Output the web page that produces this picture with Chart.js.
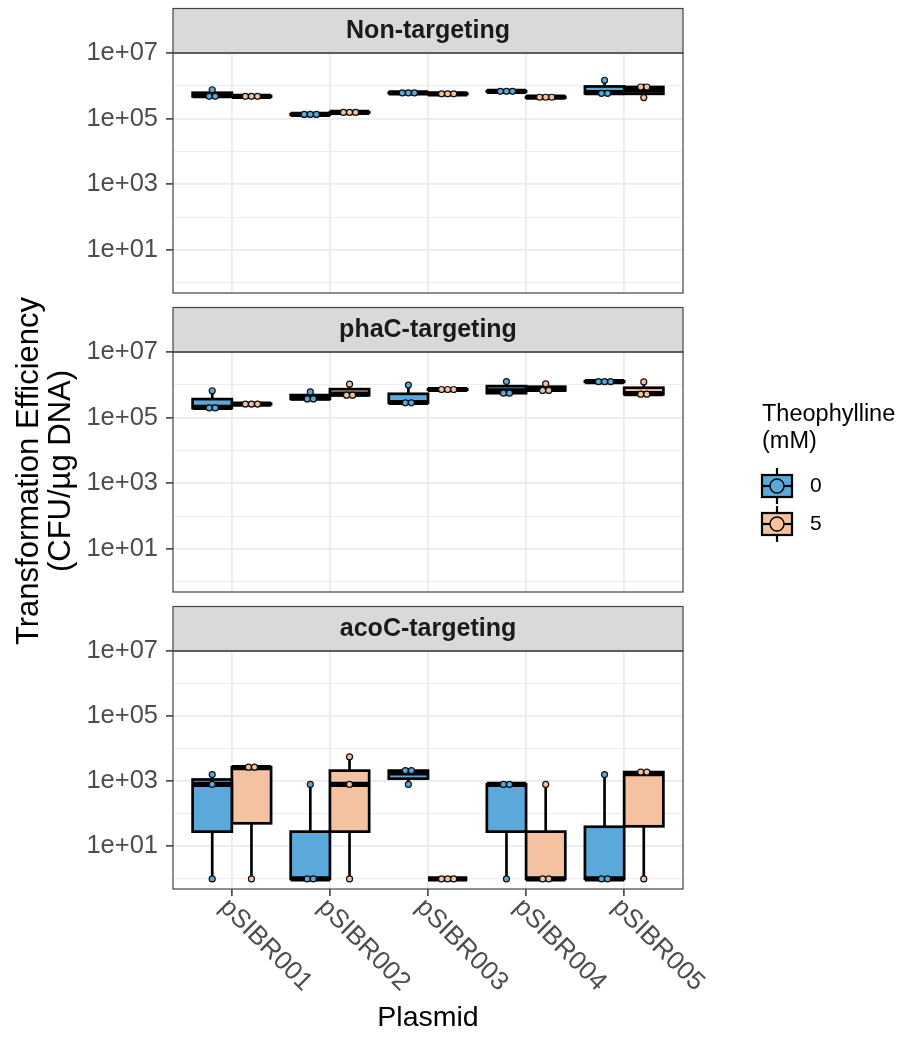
<!DOCTYPE html>
<html>
<head>
<meta charset="utf-8">
<script src="https://cdn.jsdelivr.net/npm/chart.js@4.4.1/dist/chart.umd.min.js"></script>
<style>
  html, body { margin: 0; padding: 0; background: #fff; }
  #wrap { position: relative; width: 901px; height: 1041px; }
  #wrap canvas { position: absolute; left: 0; top: 0; }
</style>
</head>
<body>
<div id="wrap">
  <canvas id="panel1" width="901" height="1041"></canvas>
  <canvas id="panel2" width="901" height="1041"></canvas>
  <canvas id="panel3" width="901" height="1041"></canvas>
</div>
<script>
const plasmids = ["pSIBR001", "pSIBR002", "pSIBR003", "pSIBR004", "pSIBR005"];
const doses = ["0", "5"];
const panelTitles = ["Non-targeting", "phaC-targeting", "acoC-targeting"];
const yTickValues = [1e1, 1e3, 1e5, 1e7];
const yTickLabels = ["1e+01", "1e+03", "1e+05", "1e+07"];
const yMinorValues = [1e0, 1e2, 1e4, 1e6];

// three replicates per plasmid, CFU/ug DNA
const nonTargeting0 = [[4.6e5, 5.0e5, 7.6e5], [1.3e5, 1.35e5, 1.4e5], [5.9e5, 6.1e5, 6.3e5], [6.6e5, 6.8e5, 7.0e5], [5.6e5, 6.2e5, 1.48e6]];
const nonTargeting5 = [[4.6e5, 4.8e5, 5.0e5], [1.5e5, 1.55e5, 1.6e5], [5.5e5, 5.7e5, 5.9e5], [4.3e5, 4.5e5, 4.7e5], [4.4e5, 7.4e5, 1.15e6]];
const phaC0 = [[1.9e5, 2.05e5, 6.6e5], [3.55e5, 3.9e5, 6.1e5], [2.75e5, 2.9e5, 9.8e5], [4.7e5, 6.6e5, 1.26e6], [1.2e6, 1.26e6, 1.3e6]];
const phaC5 = [[2.5e5, 2.6e5, 2.7e5], [4.5e5, 5.2e5, 1.05e6], [7.0e5, 7.2e5, 7.4e5], [6.3e5, 7.2e5, 1.07e6], [5.0e5, 5.4e5, 1.23e6]];
const acoC0 = [[1, 800, 1600], [1, 1, 800], [800, 1800, 2500], [1, 800, 800], [1, 1, 1600]];
const acoC5 = [[1, 2600, 2800], [1, 800, 5600], [1, 1, 1], [1, 1, 800], [1, 1700, 2150]];

const FONT = '"Liberation Sans", Arial, Helvetica, sans-serif';
const fills = ["#5BA8DB", "#F4C2A1"];
const dodge = [-0.2, 0.2];
const DOT_STEP = 0.062;
Chart.defaults.font.family = FONT;

const panels = [
    { id: "panel1", title: panelTitles[0], series: [nonTargeting0, nonTargeting5], top: 53, bottom: 293 },
    { id: "panel2", title: panelTitles[1], series: [phaC0, phaC5], top: 352, bottom: 592, legend: true, yTitle: true },
    { id: "panel3", title: panelTitles[2], series: [acoC0, acoC5], top: 651, bottom: 889, xLabels: true },
];

const lg = (v) => Math.log10(v);

// boxplot stats on log10 values (like scale_y_log10)
let boxStats = (vals) => {
    const s = vals.map(lg).sort((a, b) => a - b);
    const q = (p) => {
        const h = (s.length - 1) * p;
        const lo = Math.floor(h);
        const hi = Math.min(lo + 1, s.length - 1);
        return s[lo] + (h - lo) * (s[hi] - s[lo]);
    };
    const q1 = q(0.25), q3 = q(0.75), iqr = q3 - q1;
    const inside = s.filter((v) => v >= q1 - 1.5 * iqr && v <= q3 + 1.5 * iqr);
    return {
        lo: 10 ** inside[0],
        q1: 10 ** q1,
        med: 10 ** q(0.5),
        q3: 10 ** q3,
        hi: 10 ** inside[inside.length - 1],
    };
};

const allLogs = panels.flatMap((p) => p.series.flat(2)).map(lg);
const binWidth = (Math.max(...allLogs) - Math.min(...allLogs)) / 30;

// dot-density binning, like geom_dotplot
let dotBins = (vals) => {
    const s = vals.map(lg).sort((a, b) => a - b);
    const bins = [];
    let end = -Infinity;
    s.forEach((v) => {
        if (v >= end) {
            bins.push([]);
            end = v + binWidth;
        }
        bins[bins.length - 1].push(v);
    });
    return bins.map((b) => ({ center: (b[0] + b[b.length - 1]) / 2, n: b.length }));
};

let drawLegend = (ctx) => {
    ctx.save();
    ctx.fillStyle = "#000";
    ctx.font = "23.5px " + FONT;
    ctx.textAlign = "left";
    ctx.textBaseline = "alphabetic";
    ctx.fillText("Theophylline", 762, 421);
    ctx.fillText("(mM)", 762, 448);
    doses.forEach((d, i) => {
        const cy = 486 + i * 38;
        const cx = 777;
        ctx.strokeStyle = "#000";
        ctx.lineWidth = 2.2;
        ctx.beginPath();
        ctx.moveTo(cx, cy - 18);
        ctx.lineTo(cx, cy + 18);
        ctx.stroke();
        ctx.fillStyle = fills[i];
        ctx.fillRect(762, cy - 11, 30, 22);
        ctx.strokeRect(762, cy - 11, 30, 22);
        ctx.beginPath();
        ctx.moveTo(762, cy);
        ctx.lineTo(792, cy);
        ctx.stroke();
        ctx.beginPath();
        ctx.arc(cx, cy, 7, 0, Math.PI * 2);
        ctx.fill();
        ctx.lineWidth = 1.4;
        ctx.stroke();
        ctx.fillStyle = "#000";
        ctx.font = "21px " + FONT;
        ctx.textBaseline = "middle";
        ctx.fillText(d, 810, cy);
        ctx.textBaseline = "alphabetic";
        ctx.font = "23.5px " + FONT;
    });
    ctx.restore();
};

let drawYTitle = (ctx) => {
    ctx.save();
    ctx.fillStyle = "#000";
    ctx.font = "31px " + FONT;
    ctx.textAlign = "center";
    ctx.textBaseline = "middle";
    [["Transformation Efficiency", 29], ["(CFU/µg DNA)", 61]].forEach(([t, x]) => {
        ctx.save();
        ctx.translate(x, 471);
        ctx.rotate(-Math.PI / 2);
        ctx.fillText(t, 0, 0);
        ctx.restore();
    });
    ctx.restore();
};

const facetPlugin = {
    id: "facet",
    afterDatasetDraw(chart, args) {
        const meta = args.meta;
        if (meta.type !== "bar") return;
        const ctx = chart.ctx;
        const y = chart.scales.y;
        const raw = chart.data.datasets[args.index].data;
        ctx.save();
        ctx.strokeStyle = "#000";
        meta.data.forEach((el, i) => {
            const st = raw[i].stats;
            const { x, width } = el.getProps(["x", "width"], true);
            const left = x - width / 2;
            const yq1 = y.getPixelForValue(st.q1);
            const yq3 = y.getPixelForValue(st.q3);
            ctx.lineWidth = 2.7;
            ctx.lineCap = "butt";
            ctx.beginPath();
            ctx.moveTo(x, yq3);
            ctx.lineTo(x, y.getPixelForValue(st.hi));
            ctx.moveTo(x, yq1);
            ctx.lineTo(x, y.getPixelForValue(st.lo));
            ctx.stroke();
            ctx.strokeRect(left, yq3, width, yq1 - yq3);
            ctx.lineWidth = 5.2;
            ctx.beginPath();
            ctx.moveTo(left, y.getPixelForValue(st.med));
            ctx.lineTo(left + width, y.getPixelForValue(st.med));
            ctx.stroke();
        });
        ctx.restore();
    },
    afterDraw(chart, args, opts) {
        const ctx = chart.ctx;
        const a = chart.chartArea;
        ctx.save();
        // strip
        ctx.fillStyle = "#D9D9D9";
        ctx.fillRect(a.left, a.top - 44.5, a.right - a.left, 44.5);
        ctx.strokeStyle = "#444";
        ctx.lineWidth = 1.2;
        ctx.strokeRect(a.left, a.top - 44.5, a.right - a.left, 44.5);
        ctx.fillStyle = "#1A1A1A";
        ctx.font = "bold 25px " + FONT;
        ctx.textAlign = "center";
        ctx.textBaseline = "middle";
        ctx.fillText(opts.title, (a.left + a.right) / 2, a.top - 22);
        // panel border
        ctx.strokeRect(a.left, a.top, a.right - a.left, a.bottom - a.top);
        if (opts.xLabels) {
            ctx.fillStyle = "#4D4D4D";
            ctx.font = "26px " + FONT;
            ctx.textAlign = "left";
            ctx.textBaseline = "top";
            plasmids.forEach((p, i) => {
                const px = chart.scales.x.getPixelForValue(i);
                ctx.save();
                ctx.translate(px + 1, a.bottom + 5);
                ctx.rotate(Math.PI / 4);
                ctx.fillText(p, 0, 0);
                ctx.restore();
            });
            ctx.fillStyle = "#000";
            ctx.font = "28.5px " + FONT;
            ctx.textAlign = "center";
            ctx.textBaseline = "alphabetic";
            ctx.fillText("Plasmid", (a.left + a.right) / 2, 1026);
        }
        ctx.restore();
        if (opts.legend) drawLegend(ctx);
        if (opts.yTitle) drawYTitle(ctx);
    },
};

let buildPanel = (p) => {
    const datasets = [];
    p.series.forEach((groups, d) => {
        datasets.push({
            type: "bar",
            label: doses[d],
            data: groups.map((g, i) => {
                const st = boxStats(g);
                return { x: i, y: [st.q1, st.q3], stats: st };
            }),
            backgroundColor: fills[d],
            borderWidth: 0,
            categoryPercentage: 0.8,
            barPercentage: 1,
            order: 2,
        });
    });
    p.series.forEach((groups, d) => {
        const pts = [];
        groups.forEach((g, i) => {
            dotBins(g).forEach((b) => {
                for (let k = 0; k < b.n; k++) {
                    pts.push({ x: i + dodge[d] + (k - (b.n - 1) / 2) * DOT_STEP, y: 10 ** b.center });
                }
            });
        });
        datasets.push({
            type: "scatter",
            label: doses[d] + " dots",
            data: pts,
            pointRadius: 3,
            pointBorderWidth: 1.2,
            pointBorderColor: "#111",
            pointBackgroundColor: fills[d],
            clip: false,
            order: 1,
        });
    });

    const xH = 7;
    const ctx = document.getElementById(p.id).getContext("2d");
    return new Chart(ctx, {
        type: "bar",
        data: { datasets: datasets },
        options: {
            responsive: false,
            animation: false,
            devicePixelRatio: 1,
            layout: { padding: { top: p.top, left: 0, right: 901 - 683, bottom: 1041 - p.bottom - xH } },
            plugins: {
                legend: { display: false },
                tooltip: { enabled: false },
                facet: { title: p.title, legend: !!p.legend, yTitle: !!p.yTitle, xLabels: !!p.xLabels },
            },
            scales: {
                x: {
                    type: "linear",
                    min: -0.6,
                    max: 4.6,
                    offset: false,
                    afterBuildTicks: (scale) => {
                        scale.ticks = plasmids.map((name, i) => ({ value: i }));
                    },
                    afterFit: (scale) => {
                        scale.height = xH;
                    },
                    ticks: { display: false },
                    grid: {
                        offset: false,
                        color: "#EBEBEB",
                        lineWidth: 1.8,
                        drawTicks: !!p.xLabels,
                        tickLength: 7,
                        tickColor: "#333",
                        tickWidth: 1.5,
                    },
                    border: { display: false },
                },
                y: {
                    type: "logarithmic",
                    min: 10 ** -0.31,
                    max: 1e7,
                    afterBuildTicks: (scale) => {
                        scale.ticks = yMinorValues.concat(yTickValues).sort((a, b) => a - b).map((v) => ({ value: v }));
                    },
                    afterFit: (scale) => {
                        scale.width = 173;
                    },
                    ticks: {
                        autoSkip: false,
                        padding: 8,
                        color: "#4D4D4D",
                        font: { size: 25.5 },
                        callback: (v) => {
                            const k = yTickValues.findIndex((t) => Math.abs(lg(t) - lg(v)) < 1e-6);
                            return k >= 0 ? yTickLabels[k] : "";
                        },
                    },
                    grid: {
                        color: "#EBEBEB",
                        lineWidth: (c) => (c.tick && yMinorValues.some((m) => Math.abs(lg(m) - lg(c.tick.value)) < 1e-6) ? 0.9 : 1.8),
                        tickLength: 7,
                        tickWidth: 1.5,
                        tickColor: (c) => (c.tick && yTickValues.some((m) => Math.abs(lg(m) - lg(c.tick.value)) < 1e-6) ? "#333" : "rgba(0,0,0,0)"),
                    },
                    border: { display: false },
                },
            },
        },
        plugins: [facetPlugin],
    });
};

panels.forEach(buildPanel);
</script>
</body>
</html>
